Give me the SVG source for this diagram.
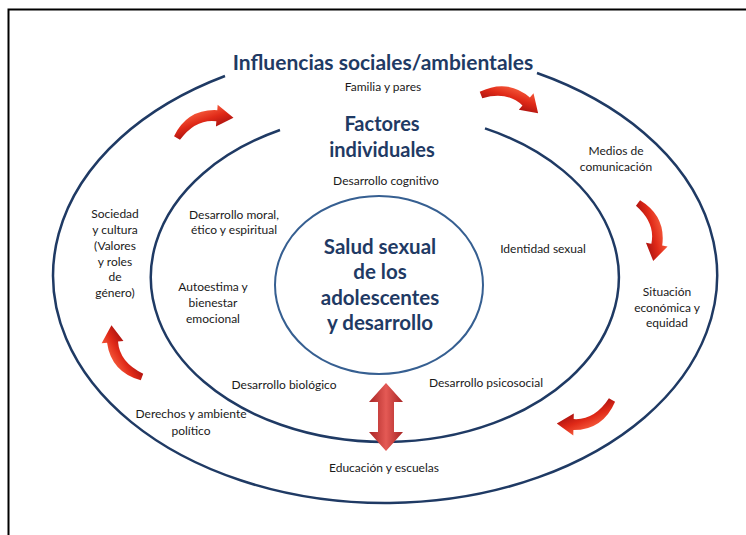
<svg xmlns="http://www.w3.org/2000/svg" width="746" height="535" viewBox="0 0 746 535">
<defs>
<style>
.lbl{font-family:Lato,"Open Sans","Liberation Sans",sans-serif;font-size:12px;fill:#1a1a1a;text-anchor:middle}
.ttl{font-family:Lato,"Open Sans","Liberation Sans",sans-serif;font-weight:bold;fill:#1F3A64;text-anchor:middle}
.ring{fill:none;stroke:#1F3A64;stroke-width:2.5}
.core{fill:none;stroke:#365F91;stroke-width:2}
</style>
<linearGradient id="redg" x1="0" y1="0" x2="0" y2="1">
<stop offset="0" stop-color="#f4583a"/>
<stop offset="0.5" stop-color="#e02a18"/>
<stop offset="1" stop-color="#b01410"/>
</linearGradient>
<linearGradient id="dbl" x1="0" y1="0" x2="1" y2="0">
<stop offset="0" stop-color="#a82424"/>
<stop offset="0.5" stop-color="#e45a55"/>
<stop offset="1" stop-color="#a82424"/>
</linearGradient>
<path id="carrow" d="M -2.2 -2.7 Q 20 -24 47.3 -12.6 L 49.5 -17.6 L 60 0 L 40.5 2.4 L 42.7 -2.6 Q 24 -12 2.2 2.7 Z" fill="url(#redg)"/>
</defs>
<rect x="0" y="0" width="746" height="535" fill="#ffffff"/>
<rect x="8.5" y="9.5" width="780" height="560" fill="none" stroke="#000" stroke-width="2"/>

<g id="connectors">
<path class="ring" d="M 537 73 A 332 227.6 0 1 1 225 76"/>
<path class="ring" d="M 485 128.4 A 234 164.7 0 1 1 280 130"/>
<use href="#carrow" transform="translate(177,138) rotate(-19.7)"/>
<use href="#carrow" transform="translate(481,95) rotate(17.8)"/>
<use href="#carrow" transform="translate(638,203) rotate(75.3)"/>
<use href="#carrow" transform="translate(612,400) rotate(157)"/>
<use href="#carrow" transform="translate(142,377) rotate(-120.6)"/>
<path d="M 386 383 L 403 402 L 394 402 L 394 432 L 403 432 L 386 451 L 369 432 L 378 432 L 378 402 L 369 402 Z" fill="url(#dbl)"/>
</g>

<g id="core">
<ellipse class="core" cx="379" cy="285" rx="104" ry="89"/>
<text class="ttl" font-size="20.5" x="380" y="254">Salud sexual</text>
<text class="ttl" font-size="20.5" x="380" y="279">de los</text>
<text class="ttl" font-size="20.5" x="380" y="305">adolescentes</text>
<text class="ttl" font-size="20.5" x="380" y="330">y desarrollo</text>
</g>

<g id="outer-title"><text class="ttl" font-size="21" x="383" y="70">Influencias sociales/ambientales</text></g>
<g id="inner-title">
<text class="ttl" font-size="20" x="382" y="131">Factores</text>
<text class="ttl" font-size="20" x="382" y="157">individuales</text>
</g>

<g id="familia"><text class="lbl" x="383" y="91">Familia y pares</text></g>
<g id="medios"><text class="lbl" x="616" y="155">Medios de</text><text class="lbl" x="616" y="171">comunicación</text></g>
<g id="situacion"><text class="lbl" x="667" y="296">Situación</text><text class="lbl" x="667" y="312">económica y</text><text class="lbl" x="667" y="327">equidad</text></g>
<g id="educacion"><text class="lbl" x="384" y="472">Educación y escuelas</text></g>
<g id="derechos"><text class="lbl" x="191" y="418">Derechos y ambiente</text><text class="lbl" x="191" y="435">político</text></g>
<g id="sociedad">
<text class="lbl" x="115" y="218">Sociedad</text>
<text class="lbl" x="115" y="234">y cultura</text>
<text class="lbl" x="115" y="250">(Valores</text>
<text class="lbl" x="115" y="266">y roles</text>
<text class="lbl" x="115" y="281">de</text>
<text class="lbl" x="115" y="297">género)</text>
</g>

<g id="cognitivo"><text class="lbl" x="386" y="185">Desarrollo cognitivo</text></g>
<g id="moral"><text class="lbl" x="234" y="219">Desarrollo moral,</text><text class="lbl" x="234" y="234">ético y espiritual</text></g>
<g id="identidad"><text class="lbl" x="543" y="253">Identidad sexual</text></g>
<g id="autoestima"><text class="lbl" x="213" y="291">Autoestima y</text><text class="lbl" x="213" y="307">bienestar</text><text class="lbl" x="213" y="323">emocional</text></g>
<g id="biologico"><text class="lbl" x="284" y="389">Desarrollo biológico</text></g>
<g id="psicosocial"><text class="lbl" x="486" y="387">Desarrollo psicosocial</text></g>
</svg>
